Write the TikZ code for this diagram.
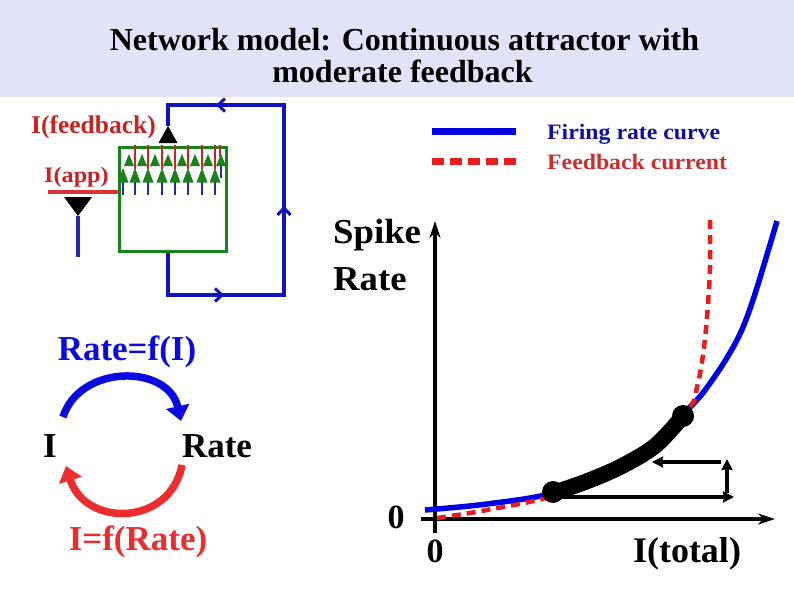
\documentclass[tikz,border=0pt]{standalone}
\usepackage{fontspec}
\setmainfont{Liberation Serif}
\usetikzlibrary{arrows.meta}
\definecolor{band}{RGB}{226,226,248}
\definecolor{netgreen}{RGB}{25,130,25}
\definecolor{loopblue}{RGB}{15,20,190}
\definecolor{appred}{RGB}{220,50,50}
\definecolor{labred}{RGB}{200,35,35}
\definecolor{navyline}{RGB}{40,40,170}
\definecolor{curveblue}{RGB}{0,0,230}
\definecolor{dashred}{RGB}{230,30,30}
\definecolor{legblue}{RGB}{15,15,165}
\definecolor{legred}{RGB}{205,45,45}
\definecolor{cycblue}{RGB}{10,10,225}
\definecolor{cycred}{RGB}{235,45,45}
\newcommand\myfs[1]{\fontsize{#1}{#1}\selectfont\bfseries}
\tikzset{
  txt/.style={inner sep=0pt, anchor=base},
  loopline/.style={draw=loopblue, line width=3.3pt},
  chev/.style={draw=loopblue, line width=3pt},
  gtri/.style={fill=netgreen},
  axis/.style={line width=4.2pt, -{Stealth[length=17pt,width=11pt]}},
  garrow/.style={line width=3.3pt, -{Stealth[length=11pt,width=11pt,inset=1pt]}},
}
\begin{document}
\begin{tikzpicture}[x=1pt,y=-1pt]
\useasboundingbox (0,0) rectangle (794,595);
\fill[white] (0,0) rectangle (794,595);
\fill[band] (0,0) rectangle (794,97);

% title
\node[txt, font=\myfs{32}] (t1) at (404.5,50) {Network model: Continuous attractor with};
\node[txt, font=\myfs{32}] (t2) at (402.5,82) {moderate feedback};

% network box
\node[draw=netgreen, line width=3.5pt, minimum width=107pt, minimum height=104pt, inner sep=0pt, anchor=north west] (box) at (117.5,145.5) {};
\foreach \x in {135,148,162,175,188,202,215}{\draw[labred, line width=1.3pt] (\x,145) -- (\x,169);}
\draw[labred, line width=1.3pt] (220,145) -- (220,157);
\foreach \x in {123,135,148,162,175,188,202,215}{\draw[navyline, line width=1.5pt] (\x,182) -- (\x,195);}
\draw[navyline, line width=1.5pt] (221,165) -- (221,178);
\foreach \x in {129,142,155,168,182,195,208,221}{\fill[gtri] (\x,154) -- (\x+5,166) -- (\x-5,166) -- cycle;}
\foreach \x in {123,135,148,162,175,188,202,215}{\fill[gtri] (\x,168) -- (\x+5.5,182.5) -- (\x-5.5,182.5) -- cycle;}

% feedback triangle and loop
\coordinate (fbtip) at (168,126);
\fill[black] (fbtip) -- (177.5,143) -- (158.5,143) -- cycle;
\draw[loopline] (box.south -| fbtip) -- (168,295) -- (284,295) -- (284,105) -- (168,105) -- (fbtip);
\draw[chev] (225,98.5) -- (218,105) -- (225,111.5);
\draw[chev] (277.5,215) -- (284,208) -- (290.5,215);
\draw[chev] (215,288.5) -- (222,295) -- (215,301.5);
\node[txt, font=\myfs{25.5}, text=labred, anchor=base west] (lfb) at (31,133) {I(feedback)};

% applied input
\node[txt, font=\myfs{22}, text=labred, anchor=base west] (lapp) at (44,182) {\scalebox{1.1}[1]{I(app)}};
\coordinate (appin) at (48,192);
\draw[appred, line width=4.5pt] (appin) -- (appin -| box.west);
\coordinate (apptip) at (78,216);
\fill[black] (64,197) -- (92,197) -- (apptip) -- cycle;
\coordinate (appbot) at (78,257);
\draw[navyline, line width=4.2pt] (apptip) -- (appbot);

% legend
\coordinate (lb1) at (432,131); \coordinate (lb2) at (516,131);
\draw[curveblue, line width=7pt] (lb1) -- (lb2);
\coordinate (lr1) at (432,161); \coordinate (lr2) at (516,161);
\draw[dashred, line width=7pt, dash pattern=on 12pt off 6pt] (lr1) -- (lr2);
\node[txt, font=\myfs{22}, text=legblue, anchor=base west] (leg1) at (547,139) {\scalebox{1.08}[1]{Firing rate curve}};
\node[txt, font=\myfs{22}, text=legred, anchor=base west] (leg2) at (547,169) {\scalebox{1.08}[1]{Feedback current}};

% graph
\coordinate (yb) at (435,533); \coordinate (yt) at (435,221);
\coordinate (xl) at (421,519); \coordinate (xr) at (775,519);
\draw[axis] (yb) -- (yt);
\draw[axis] (xl) -- (xr);
\node[txt, font=\myfs{35}, anchor=base west] (sp) at (333,243) {\scalebox{1.05}[1]{Spike}};
\node[txt, font=\myfs{35}, anchor=base west] (rt) at (333,290) {\scalebox{1.05}[1]{Rate}};
\node[txt, font=\myfs{34}] (z1) at (396,528) {0};
\node[txt, font=\myfs{34}] (z2) at (435,562) {0};
\node[txt, font=\myfs{36}] (it) at (687,562) {I(total)};

\draw[curveblue, line width=5.5pt] plot[smooth, tension=0.55] coordinates {(425,510) (487,504) (553,493) (620,467) (687,410) (713,379) (737,340) (753,300) (777,221)};
\draw[dashred, line width=4.5pt, dash pattern=on 9pt off 6pt] plot[smooth, tension=0.55] coordinates {(437,518) (487,510) (553,496) (620,470) (687,410) (697,387) (703,355) (707,317) (710,267) (710,220)};
\draw[line width=16pt, line cap=round] plot[smooth, tension=0.55] coordinates {(553,493) (585,482) (620,467) (655,446) (683,416)};
\node[circle, fill=black, minimum size=22pt, inner sep=0pt] (lo) at (553,492) {};
\node[circle, fill=black, minimum size=22pt, inner sep=0pt] (hi) at (683,416) {};
\coordinate (a1) at (734,497);
\coordinate (v0) at (727,493); \coordinate (v1) at (727,459);
\coordinate (h0) at (721,462); \coordinate (h1) at (652,462);
\draw[garrow] (lo.south east |- a1) -- (a1);
\draw[garrow] (v0) -- (v1);
\draw[garrow] (h0) -- (h1);

% cycle
\node[txt, font=\myfs{35}, text=cycblue] (fI) at (127,360) {Rate=f(I)};
\node[txt, font=\myfs{35}] (I) at (50,457) {I};
\node[txt, font=\myfs{35}] (R) at (217,457) {Rate};
\node[txt, font=\myfs{35}, text=cycred] (fR) at (138,550) {I=f(Rate)};
\coordinate (bs) at (63,417); \coordinate (be) at (181,421);
\coordinate (rs) at (182,465); \coordinate (re) at (66,466);
\draw[cycblue, line width=7.5pt, -{Triangle[length=15pt,width=23pt]}] (bs) .. controls (80,364) and (168,364) .. (be);
\draw[cycred, line width=7.5pt, -{Triangle[length=15pt,width=23pt]}] (rs) .. controls (170,527) and (85,527) .. (re);
\end{tikzpicture}
\end{document}
